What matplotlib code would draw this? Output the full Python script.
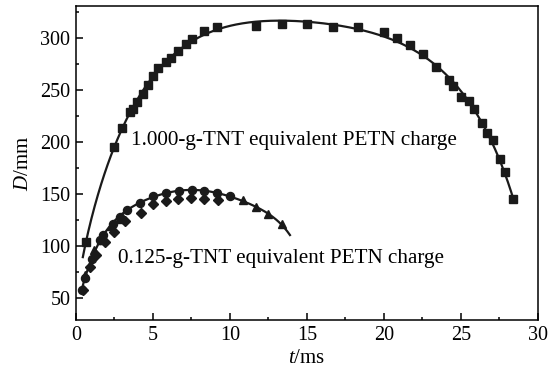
import numpy as np
import matplotlib
matplotlib.use("Agg")
import matplotlib.pyplot as plt
from matplotlib.ticker import MultipleLocator

plt.rcParams['font.family'] = ['Liberation Serif', 'DejaVu Serif']
plt.rcParams['mathtext.fontset'] = 'custom'
plt.rcParams['mathtext.it'] = 'Liberation Serif:italic'
plt.rcParams['mathtext.rm'] = 'Liberation Serif'

# 1.000-g-TNT equivalent PETN charge (squares)
t_big = [0.65, 2.45, 2.97, 3.51, 3.72, 3.98, 4.33, 4.66, 5.02, 5.34, 5.84, 6.17,
         6.64, 7.14, 7.51, 8.31, 9.14, 11.69, 13.36, 15.02, 16.71, 18.33, 20.0,
         20.82, 21.69, 22.51, 23.36, 24.22, 24.5, 25.0, 25.54, 25.86, 26.38,
         26.71, 27.06, 27.53, 27.86, 28.36]
D_big = [104, 195, 213.8, 229, 232, 238.8, 246.8, 254.8, 263.5, 271.5, 277, 280.5,
         287.8, 294.9, 299.7, 306.7, 310.3, 311.5, 313.5, 314, 310.9, 310.9, 306,
         300.3, 293.3, 284.6, 272.4, 259.6, 253.8, 243, 240, 232, 218.6,
         209, 202, 183.7, 171.4, 145.2]

# 0.125-g-TNT equivalent PETN charge
t_circ = [0.37, 0.58, 1.02, 1.56, 1.77, 2.38, 2.86, 3.29, 4.16, 5.02, 5.84, 6.71,
          7.51, 8.33, 9.14, 10.0]
D_circ = [57.7, 69, 88, 105.8, 110.6, 121.8, 128.2, 134.6, 141.6, 148.4, 151.3, 153.2,
          153.8, 153.2, 150.7, 148.1]
t_diam = [0.45, 0.91, 1.3, 1.9, 2.5, 3.2, 4.2, 5.02, 5.84, 6.64, 7.47, 8.33, 9.2]
D_diam = [58, 80, 92, 104, 114, 124, 132.4, 140.1, 143.3, 145.8, 146.5, 145.8, 144.2]
t_tri = [0.6, 1.15, 1.6, 2.3, 2.8, 10.86, 11.69, 12.49, 13.36]
D_tri = [72, 96, 106, 119, 126, 144.2, 137.8, 130.5, 120.9]

xticks = [0, 5, 10, 15, 20, 25, 30]
yticks = [50, 100, 150, 200, 250, 300]

fig = plt.figure(figsize=(5.5, 3.73), dpi=100)
ax = fig.add_axes([0.138, 0.142, 0.840, 0.842])

# fitted curve, large charge: polynomial in a stretched time variable
tb_arr = np.array(t_big)
Db_arr = np.array(D_big)
u = np.sqrt(tb_arr - 0.3) - np.sqrt(28.8 - tb_arr)
pb = np.polyfit(u, Db_arr, 6)
tb = np.linspace(0.45, 28.4, 400)
ub = np.sqrt(tb - 0.3) - np.sqrt(28.8 - tb)
ax.plot(tb, np.polyval(pb, ub), color='#1a1a1a', lw=1.6, zorder=2)

# fitted curve, small charge
ts_fit = np.array(t_circ + t_tri[5:])
Ds_fit = np.array(D_circ + D_tri[5:])
ps = np.polyfit(ts_fit, Ds_fit, 6)
tsm = np.linspace(0.35, 13.9, 300)
ax.plot(tsm, np.polyval(ps, tsm), color='#1a1a1a', lw=1.6, zorder=2)

mk = dict(color='#1a1a1a', ls='none', zorder=3)
ax.plot(t_big, D_big, marker='s', ms=5.2, **mk)
ax.plot(t_circ, D_circ, marker='o', ms=5.8, **mk)
ax.plot(t_diam, D_diam, marker='D', ms=4.8, **mk)
ax.plot(t_tri, D_tri, marker='^', ms=5.8, **mk)

ax.text(3.57, 202, '1.000-g-TNT equivalent PETN charge', fontsize=15.2,
        va='center', ha='left')
ax.text(2.73, 88.5, '0.125-g-TNT equivalent PETN charge', fontsize=15.2,
        va='center', ha='left')

ax.set_xlim(0, 30)
ax.set_ylim(29, 331)
ax.set_xticks(xticks)
ax.set_yticks(yticks)
ax.xaxis.set_minor_locator(MultipleLocator(2.5))
ax.yaxis.set_minor_locator(MultipleLocator(25))
ax.tick_params(which='both', direction='in', top=False, right=False,
               labelsize=14.5, width=1.1)
ax.tick_params(which='major', length=5, pad=4)
ax.tick_params(which='minor', length=2.5)
for s in ax.spines.values():
    s.set_linewidth(1.1)
ax.set_xlabel(r'$t$/ms', fontsize=15, labelpad=3)
ax.set_ylabel(r'$D$/mm', fontsize=15, labelpad=5)

fig.savefig('out.png', dpi=100)
